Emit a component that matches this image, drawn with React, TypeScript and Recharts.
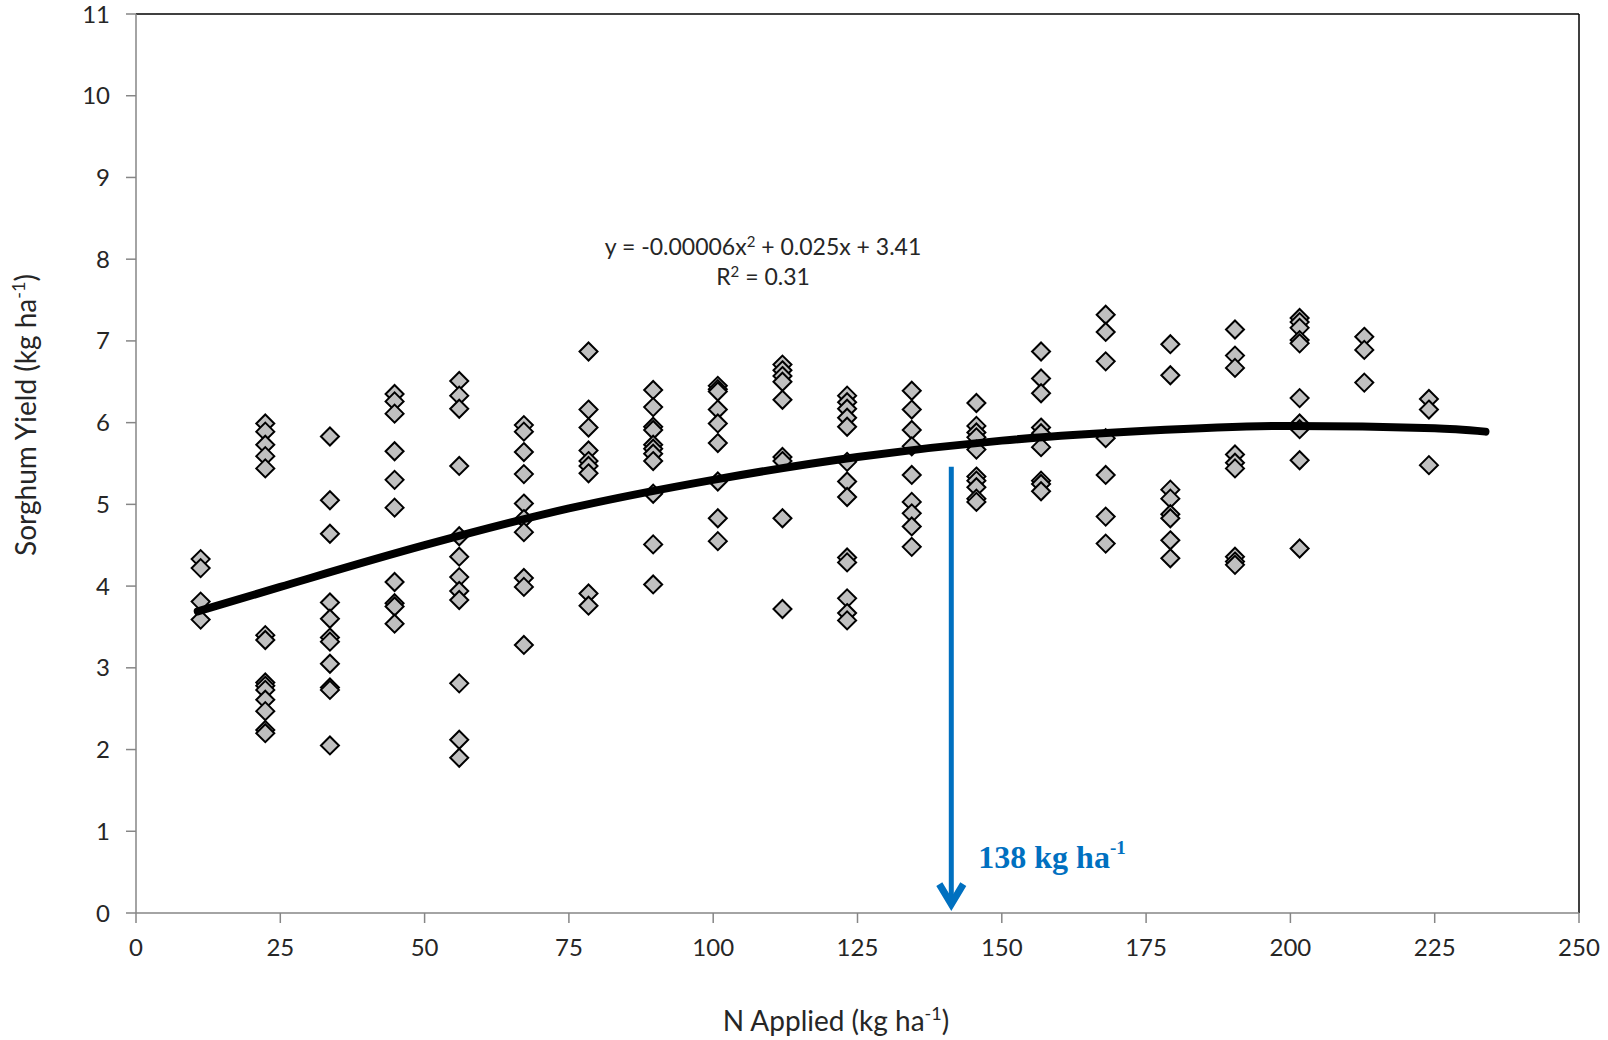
import React from "react";
import { ScatterChart, Scatter, XAxis, YAxis, ReferenceLine, Label } from "recharts";

const AXIS = "#868686";
const TEXT = "#262626";
const BLUE = "#0070C0";
const FONT = "Lato, 'Open Sans', sans-serif";

// N rates (kg/ha), one column of plots per rate
const N_RATES = [11.2, 22.4, 33.6, 44.8, 56, 67.2, 78.4, 89.6, 100.8, 112, 123.2, 134.4, 145.6, 156.8, 168, 179.2, 190.4, 201.6, 212.8, 224];

// yields, top to bottom
const YIELDS: number[][] = [
  [4.33, 4.22, 3.81, 3.59],
  [5.99, 5.89, 5.73, 5.59, 5.44, 3.4, 3.34, 2.82, 2.78, 2.73, 2.61, 2.47, 2.24, 2.2],
  [5.83, 5.05, 4.64, 3.8, 3.6, 3.37, 3.32, 3.05, 2.76, 2.73, 2.05],
  [6.35, 6.26, 6.11, 5.65, 5.3, 4.96, 4.05, 3.79, 3.75, 3.54],
  [6.51, 6.33, 6.17, 5.47, 4.61, 4.36, 4.11, 3.94, 3.83, 2.81, 2.12, 1.9],
  [5.97, 5.89, 5.64, 5.37, 5.01, 4.82, 4.66, 4.1, 3.99, 3.28],
  [6.87, 6.16, 5.94, 5.66, 5.53, 5.47, 5.38, 3.91, 3.76],
  [6.4, 6.19, 5.95, 5.91, 5.73, 5.68, 5.62, 5.53, 5.13, 4.51, 4.02],
  [6.45, 6.41, 6.38, 6.16, 5.99, 5.75, 5.28, 4.83, 4.55],
  [6.71, 6.64, 6.57, 6.5, 6.28, 5.58, 5.53, 4.83, 3.72],
  [6.33, 6.25, 6.17, 6.06, 5.95, 5.52, 5.28, 5.09, 4.35, 4.29, 3.85, 3.67, 3.58],
  [6.39, 6.16, 5.91, 5.71, 5.36, 5.03, 4.89, 4.73, 4.48],
  [6.24, 5.96, 5.88, 5.82, 5.67, 5.34, 5.29, 5.21, 5.07, 5.03],
  [6.87, 6.54, 6.36, 5.94, 5.87, 5.7, 5.29, 5.25, 5.16],
  [7.32, 7.11, 6.75, 5.81, 5.36, 4.85, 4.52],
  [6.96, 6.58, 5.18, 5.07, 4.88, 4.83, 4.56, 4.34],
  [7.14, 6.82, 6.67, 5.61, 5.51, 5.44, 4.36, 4.3, 4.26],
  [7.28, 7.23, 7.16, 7.01, 6.97, 6.3, 5.99, 5.92, 5.54, 4.46],
  [7.05, 6.89, 6.49],
  [6.29, 6.16, 5.48],
];

// quadratic trend line, read along its length
const TREND_N = [10.7, 25, 50, 75, 100, 125, 150, 175, 200, 225, 233.8];
const TREND_YIELD = [3.69, 3.99, 4.5, 4.95, 5.3, 5.58, 5.78, 5.9, 5.96, 5.93, 5.89];

const X_TICKS = [0, 25, 50, 75, 100, 125, 150, 175, 200, 225, 250];
const Y_TICKS = [0, 1, 2, 3, 4, 5, 6, 7, 8, 9, 10, 11];

// blue optimum arrow
const OPT_N = 141.25;
const OPT_TOP = 5.46;
const OPT_TIP = 0.06;

const points = N_RATES.flatMap((n, i) => YIELDS[i].map((y) => ({ n, y })));
const trend = TREND_N.map((n, i) => ({ n, y: TREND_YIELD[i] }));

const Diamond = (props: any) => {
  const { cx, cy } = props;
  const r = 9;
  return (
    <path
      d={`M${cx},${cy - r}L${cx + r},${cy}L${cx},${cy + r}L${cx - r},${cy}Z`}
      fill="#C0C0C0"
      stroke="#000"
      strokeWidth={2}
    />
  );
};

const Arrow = (props: any) => {
  const { x1, y1, x2, y2 } = props;
  const top = Math.min(y1, y2);
  const tip = Math.max(y1, y2);
  return (
    <g>
      <line x1={x1} y1={top} x2={x2} y2={tip - 5} stroke={BLUE} strokeWidth={5} />
      <path d={`M${x2 - 12},${tip - 24}L${x2},${tip - 4}L${x2 + 12},${tip - 24}`} fill="none" stroke={BLUE} strokeWidth={7} strokeLinejoin="miter" />
      <text x={x2 + 27} y={tip - 40} fill={BLUE} fontFamily="'Liberation Serif', 'Times New Roman', serif" fontWeight="bold" fontSize={32}>
        138 kg ha
        <tspan fontSize={19} dy={-14}>-1</tspan>
      </text>
    </g>
  );
};

const XTitle = () => (
  <text x={836} y={1031} textAnchor="middle" fill={TEXT} fontFamily={FONT} fontSize={28}>
    N Applied (kg ha<tspan fontSize={18} dy={-11}>-1</tspan>
    <tspan dy={11}>)</tspan>
  </text>
);

const YTitle = () => (
  <text x={36} y={415} textAnchor="middle" fill={TEXT} fontFamily={FONT} fontSize={28} transform="rotate(-90, 36, 415)">
    Sorghum Yield (kg ha<tspan fontSize={18} dy={-11}>-1</tspan>
    <tspan dy={11}>)</tspan>
  </text>
);

export default function App() {
  return (
    <div style={{ position: "absolute", left: 0, top: 0, width: 1608, height: 1040, background: "#fff" }}>
      <ScatterChart width={1608} height={1040} margin={{ top: 14, right: 29, bottom: 87, left: 56 }}>
        <XAxis
          type="number"
          dataKey="n"
          domain={[0, 250]}
          ticks={X_TICKS}
          height={40}
          tickSize={10}
          tickMargin={16}
          axisLine={{ stroke: AXIS, strokeWidth: 1.5 }}
          tickLine={{ stroke: AXIS, strokeWidth: 1.5 }}
          tick={{ fill: TEXT, fontSize: 24, fontFamily: FONT }}
        >
          <Label content={<XTitle />} />
        </XAxis>
        <YAxis
          type="number"
          dataKey="y"
          domain={[0, 11]}
          ticks={Y_TICKS}
          width={80}
          tickSize={10}
          tickMargin={16}
          axisLine={{ stroke: AXIS, strokeWidth: 1.5 }}
          tickLine={{ stroke: AXIS, strokeWidth: 1.5 }}
          tick={{ fill: TEXT, fontSize: 24, fontFamily: FONT }}
        >
          <Label content={<YTitle />} />
        </YAxis>
        <ReferenceLine y={11} stroke="#000" strokeWidth={1.5} />
        <ReferenceLine x={250} stroke="#000" strokeWidth={1.5} />
        <Scatter data={points} shape={<Diamond />} isAnimationActive={false} />
        <Scatter
          data={trend}
          shape={() => <g />}
          line={{ stroke: "#000", strokeWidth: 8, strokeLinecap: "round" }}
          lineType="joint"
          lineJointType="monotoneX"
          isAnimationActive={false}
        />
        <ReferenceLine
          segment={[{ x: OPT_N, y: OPT_TOP }, { x: OPT_N, y: OPT_TIP }]}
          shape={<Arrow />}
        />
        <text x={763} y={255} textAnchor="middle" fill={TEXT} fontFamily={FONT} fontSize={23}>
          <tspan>y = -0.00006x</tspan>
          <tspan fontSize={15} dy={-8}>2</tspan>
          <tspan dy={8}> + 0.025x + 3.41</tspan>
        </text>
        <text x={763} y={285} textAnchor="middle" fill={TEXT} fontFamily={FONT} fontSize={23}>
          <tspan>R</tspan>
          <tspan fontSize={15} dy={-8}>2</tspan>
          <tspan dy={8}> = 0.31</tspan>
        </text>
      </ScatterChart>
    </div>
  );
}
